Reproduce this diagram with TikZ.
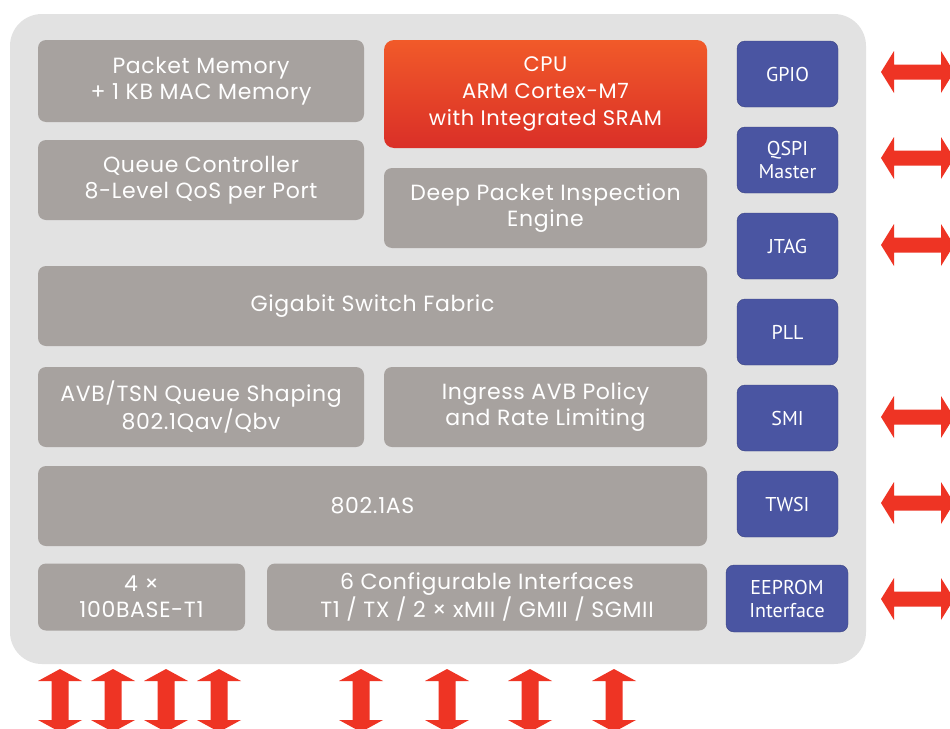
\documentclass[tikz,border=0pt]{standalone}
\usepackage{fontspec}
\setmainfont{Poppins}[LetterSpace=3]
\newfontfamily\bluefont{PT Sans}
\definecolor{bgout}{HTML}{E2E2E2}
\definecolor{gbox}{HTML}{A7A29F}
\definecolor{bbox}{HTML}{4A55A2}
\definecolor{arr}{HTML}{EE3424}
\definecolor{cputop}{HTML}{F15A29}
\definecolor{cpubot}{HTML}{DA2F28}
\tikzset{
  graybox/.style={fill=gbox, rounded corners=8pt, text=white, align=center, inner sep=0pt,
    font=\fontsize{22}{26}\selectfont},
  bluebox/.style={fill=bbox, draw=bbox!80!black, line width=0.4pt, rounded corners=8pt, text=white, align=center, inner sep=0pt,
    font=\bluefont\fontsize{20}{23}\selectfont},
  cpubox/.style={top color=cputop, bottom color=cpubot, rounded corners=10pt, text=white, align=center, inner sep=0pt,
    font=\fontsize{21}{27}\selectfont},
  bigarrow/.style={fill=arr, draw=none}
}
\newcommand{\harrow}[3]{% x1 x2 cy
  \fill[bigarrow] (#1,#3) -- (#1+13,#3-21) -- (#1+13,#3-7.5) -- (#2-13,#3-7.5) -- (#2-13,#3-21) -- (#2,#3)
   -- (#2-13,#3+21) -- (#2-13,#3+7.5) -- (#1+13,#3+7.5) -- (#1+13,#3+21) -- cycle;}
\newcommand{\varrow}[3]{% y1 y2 cx
  \fill[bigarrow] (#3,#1) -- (#3-22,#1+12) -- (#3-8.5,#1+12) -- (#3-8.5,#2-12) -- (#3-22,#2-12) -- (#3,#2)
   -- (#3+22,#2-12) -- (#3+8.5,#2-12) -- (#3+8.5,#1+12) -- (#3+22,#1+12) -- cycle;}
\begin{document}
\begin{tikzpicture}[x=1pt,y=-1pt]
\useasboundingbox (0,0) rectangle (950,728);
\clip (0,0) rectangle (950,728);
\fill[white] (0,0) rectangle (950,728);
\fill[bgout, rounded corners=32pt] (10,14) rectangle (866,664);

% gray boxes
\node[graybox, minimum width=326pt, minimum height=82pt] (pm) at (201,81) {Packet Memory\\+ 1 KB MAC Memory};
\node[graybox, minimum width=326pt, minimum height=80pt] (qc) at (201,180) {Queue Controller\\8-Level QoS per Port};
\node[cpubox, minimum width=323pt, minimum height=108pt] (cpu) at (545.5,94) {CPU\\ARM Cortex-M7\\with Integrated SRAM};
\node[graybox, minimum width=323pt, minimum height=80pt] (dpi) at (545.5,208) {Deep Packet Inspection\\Engine};
\node[graybox, minimum width=669pt, minimum height=80pt] (gsf) at (372.5,306) {Gigabit Switch Fabric};
\node[graybox, minimum width=326pt, minimum height=80pt] (avb) at (201,407) {AVB/TSN Queue Shaping\\802.1Qav/Qbv};
\node[graybox, minimum width=323pt, minimum height=80pt] (ing) at (545.5,407) {Ingress AVB Policy\\and Rate Limiting};
\node[graybox, minimum width=669pt, minimum height=80pt] (as) at (372.5,506) {802.1AS};
\node[graybox, minimum width=207pt, minimum height=67pt] (t1) at (141.5,597) {4 ×\\100BASE-T1};
\node[graybox, minimum width=440pt, minimum height=67pt] (cfg) at (487,597) {6 Configurable Interfaces\\T1 / TX / 2 × xMII / GMII / SGMII};

% blue boxes
\node[bluebox, minimum width=101pt, minimum height=66pt] (gpio) at (787.5,74) {GPIO};
\node[bluebox, minimum width=101pt, minimum height=66pt] (qspi) at (787.5,160) {QSPI\\Master};
\node[bluebox, minimum width=101pt, minimum height=66pt] (jtag) at (787.5,246) {JTAG};
\node[bluebox, minimum width=101pt, minimum height=66pt] (pll) at (787.5,332) {PLL};
\node[bluebox, minimum width=101pt, minimum height=66pt] (smi) at (787.5,418) {SMI};
\node[bluebox, minimum width=101pt, minimum height=66pt] (twsi) at (787.5,504) {TWSI};
\node[bluebox, minimum width=122pt, minimum height=67pt] (eep) at (787,598.5) {EEPROM\\Interface};

% side arrows
\harrow{881}{954}{72}
\harrow{881}{954}{158}
\harrow{881}{954}{245}
\harrow{881}{954}{417}
\harrow{881}{954}{503}
\harrow{881}{954}{599}

% bottom arrows
\foreach \cx in {60,113,166,219,361,447,530,614} {\varrow{669}{732}{\cx}}
\end{tikzpicture}
\end{document}
